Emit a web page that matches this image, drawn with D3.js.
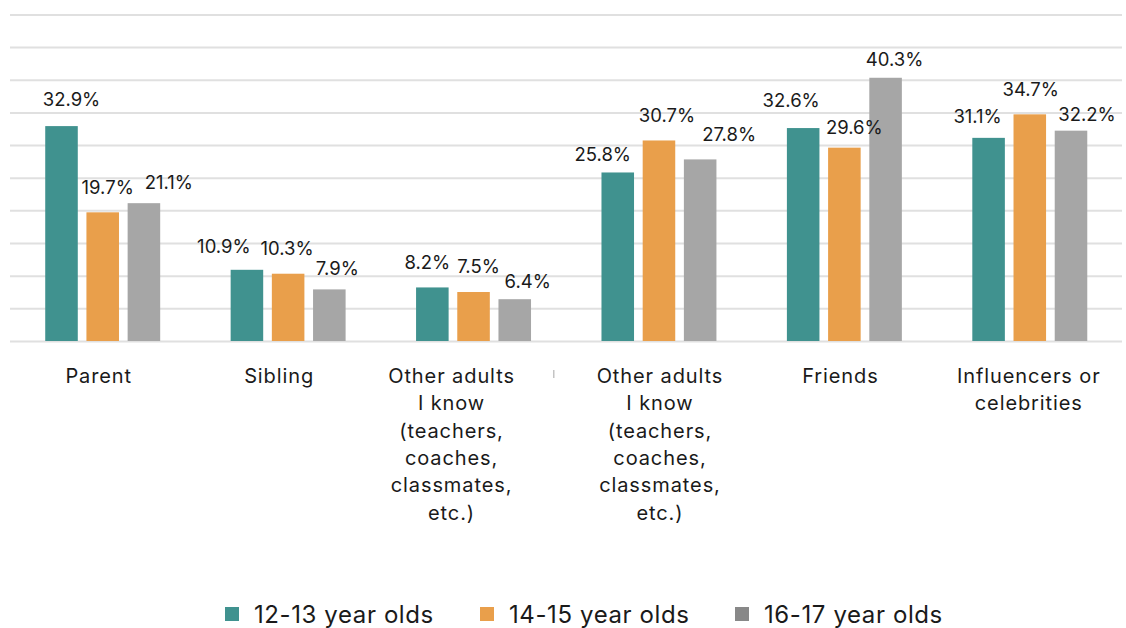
<!DOCTYPE html>
<html>
<head>
<meta charset="utf-8">
<script src="https://cdn.jsdelivr.net/npm/d3@7/dist/d3.min.js"></script>
<style>
  html, body { margin: 0; padding: 0; background: #ffffff; }
  svg { display: block; font-family: Inter, "Noto Sans", "DejaVu Sans", sans-serif; }
</style>
</head>
<body>
<svg id="chart" width="1126" height="628"></svg>
<script>
// ---------- data ----------
const categories = [
  "Parent",
  "Sibling",
  "Other adults I know (teachers, coaches, classmates, etc.)",
  "Other adults I know (teachers, coaches, classmates, etc.)",
  "Friends",
  "Influencers or celebrities"
];
const categoryLines = [
  ["Parent"],
  ["Sibling"],
  ["Other adults", "I know", "(teachers,", "coaches,", "classmates,", "etc.)"],
  ["Other adults", "I know", "(teachers,", "coaches,", "classmates,", "etc.)"],
  ["Friends"],
  ["Influencers or", "celebrities"]
];
const seriesNames = ["12-13 year olds", "14-15 year olds", "16-17 year olds"];
const values1213 = [32.9, 10.9, 8.2, 25.8, 32.6, 31.1];
const values1415 = [19.7, 10.3, 7.5, 30.7, 29.6, 34.7];
const values1617 = [21.1, 7.9, 6.4, 27.8, 40.3, 32.2];
const yTicks = [0, 5, 10, 15, 20, 25, 30, 35, 40, 45, 50];

// ---------- layout / style ----------
const barColors = ["#40928f", "#e99f4b", "#a6a6a6"];
const legendColors = ["#40928f", "#e99f4b", "#888888"];
// small label nudges (dx, dy) relative to the default spot above each bar
const labelNudge = [
  [[10, -4], [5, -2], [25, 2]],
  [[-23, -1], [-1, -3], [8, 2]],
  [[-5, -2], [5, -3], [13, 5]],
  [[-15, 5], [8, -2], [29, -2]],
  [[-12, -5], [10, 2], [9, 4]],
  [[-11, 1], [1, -2], [16, 6]]
];
// horizontal nudges of the category labels relative to the group centre
const categoryNudge = [-4, -9, -22, 1, -4, -1];

const seriesValues = [values1213, values1415, values1617];
const svg = d3.select("#chart");

const x0 = d3.scaleBand()
  .domain(d3.range(categories.length))
  .range([10, 1122.5])
  .paddingInner(0).paddingOuter(0);

const x1 = d3.scaleBand()
  .domain(d3.range(seriesNames.length))
  .range([0, x0.bandwidth()])
  .paddingInner(0.21).paddingOuter(0.855);

const y = d3.scaleLinear().domain([0, 50]).range([341, 14.4]);

// gridlines
const grid = svg.append("g")
  .attr("transform", "translate(10,0)")
  .call(d3.axisLeft(y).tickValues(yTicks).tickSize(-1112).tickFormat(""));
grid.select(".domain").remove();
grid.selectAll(".tick line").attr("stroke", "#e0e0e0").attr("stroke-width", 2);

// bars
const groups = svg.append("g").selectAll("g")
  .data(categories.map((c, i) => ({ i, vals: seriesValues.map(s => s[i]) })))
  .join("g")
  .attr("transform", d => `translate(${x0(d.i)},0)`);

groups.selectAll("rect")
  .data(d => d.vals.map((v, k) => ({ v, k, i: d.i })))
  .join("rect")
  .attr("x", d => x1(d.k))
  .attr("width", x1.bandwidth())
  .attr("y", d => y(d.v))
  .attr("height", d => y(0) - y(d.v))
  .attr("fill", d => barColors[d.k]);

// value labels
groups.selectAll("text.val")
  .data(d => d.vals.map((v, k) => ({ v, k, i: d.i })))
  .join("text")
  .attr("class", "val")
  .attr("x", d => x1(d.k) + x1.bandwidth() / 2 + labelNudge[d.i][d.k][0])
  .attr("y", d => y(d.v) - 16 + labelNudge[d.i][d.k][1])
  .attr("text-anchor", "middle")
  .attr("font-size", 18.5)
  .attr("fill", "#1a1a1a")
  .text(d => d.v.toFixed(1) + "%");

// category labels
const catG = svg.append("g").selectAll("text")
  .data(categoryLines.map((lines, i) => ({ lines, i })))
  .join("text")
  .attr("text-anchor", "middle")
  .attr("font-size", 20)
  .attr("letter-spacing", 0.9)
  .attr("fill", "#1a1a1a")
  .attr("transform", d => `translate(${x0(d.i) + x0.bandwidth() / 2 + categoryNudge[d.i]},383)`);
catG.selectAll("tspan")
  .data(d => d.lines)
  .join("tspan")
  .attr("x", 0)
  .attr("y", (d, j) => j * 27.3)
  .text(d => d);

// tiny stray mark seen in the source image
svg.append("rect").attr("x", 553).attr("y", 370).attr("width", 1.5).attr("height", 8).attr("fill", "#c4c4c4");

// legend
const legend = svg.append("g").selectAll("g")
  .data(seriesNames.map((n, k) => ({ n, k })))
  .join("g")
  .attr("transform", d => `translate(${225 + d.k * 255},0)`);
legend.append("rect")
  .attr("x", 0).attr("y", 607).attr("width", 14).attr("height", 14)
  .attr("fill", d => legendColors[d.k]);
legend.append("text")
  .attr("x", 29).attr("y", 623)
  .attr("font-size", 24)
  .attr("letter-spacing", 0.6)
  .attr("fill", "#1a1a1a")
  .text(d => d.n);
</script>
</body>
</html>
